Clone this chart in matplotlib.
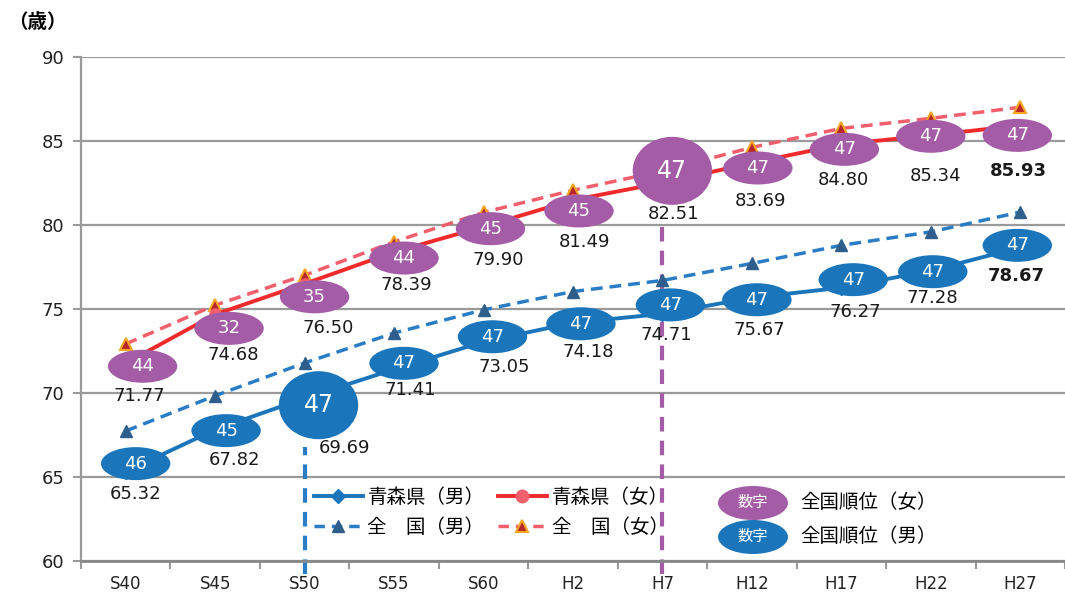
import matplotlib.pyplot as plt
from matplotlib.patches import Ellipse
from matplotlib.lines import Line2D

plt.rcParams['font.family'] = ['DejaVu Sans', 'Noto Sans CJK JP']

# data
years = ['S40', 'S45', 'S50', 'S55', 'S60', 'H2', 'H7', 'H12', 'H17', 'H22', 'H27']
aomori_m = [65.32, 67.82, 69.69, 71.41, 73.05, 74.18, 74.71, 75.67, 76.27, 77.28, 78.67]
aomori_f = [71.77, 74.68, 76.50, 78.39, 79.90, 81.49, 82.51, 83.69, 84.80, 85.34, 85.93]
nation_m = [67.74, 69.84, 71.79, 73.57, 74.95, 76.04, 76.70, 77.71, 78.79, 79.59, 80.77]
nation_f = [72.92, 75.23, 77.01, 79.00, 80.75, 82.07, 83.22, 84.62, 85.75, 86.35, 87.01]
rank_m = [46, 45, 47, 47, 47, 47, 47, 47, 47, 47, 47]
rank_f = [44, 32, 35, 44, 45, 45, 47, 47, 47, 47, 47]

# label / bubble nudges in pixels (dx right, dy down) relative to the point
f_ell = [(17, 3), (14, 14), (10, 13), (10, 6), (7, 2), (6, 11), (10, -12), (6, 5), (3, 5), (0, 1), (-3, 10)]
f_lab = [(14, 33), (18, 41), (24, 44), (12, 33), (15, 33), (12, 42), (11, 31), (9, 38), (2, 36), (5, 41), (-2, 46)]
m_ell = [(10, -8), (11, 1), (14, 7), (10, -6), (9, -5), (8, 1), (8, -9), (5, 2), (12, -8), (2, 1), (-3, -2)]
m_lab = [(10, 22), (19, 30), (40, 50), (16, 21), (21, 25), (15, 29), (4, 21), (7, 32), (14, 24), (2, 27), (-4, 29)]
big_f = 6   # H7
big_m = 2   # S50

BLUE = '#1b75bb'
RED = '#ee2a2a'
PINK = '#f25f6c'
PURPLE = '#a45ca6'
NAVY = '#2e5f8c'
GRID = '#9a9a9a'

W, H = 1065, 596
fig = plt.figure(figsize=(W / 100, H / 100), dpi=100)
ax = fig.add_axes([81 / W, 35 / H, 984 / W, 504 / H])
x = list(range(len(years)))
ax.set_xlim(-0.5, -0.5 + 984 / 90.2)
ax.set_ylim(60, 90)

sx = 90.2
sy = 504 / 30

ax.set_yticks(range(60, 91, 5))
ax.yaxis.grid(True, color=GRID, lw=1.6)
ax.set_axisbelow(True)
ax.tick_params(axis='y', length=6, width=1.5, color=GRID, labelsize=13, pad=6, labelcolor='#222222')
ax.set_xticks(x)
ax.set_xticklabels(years)
ax.set_xticks([i - 0.5 for i in range(len(years) + 1)], minor=True)
ax.tick_params(axis='x', which='major', length=0, labelsize=12, pad=10, labelcolor='#222222')
ax.tick_params(axis='x', which='minor', length=6, width=1.5, color=GRID)
for s in ['top', 'right']:
    ax.spines[s].set_visible(False)
ax.spines['left'].set_color(GRID)
ax.spines['left'].set_linewidth(1.6)
ax.spines['bottom'].set_color('#888888')
ax.spines['bottom'].set_linewidth(2)

# vertical dashed markers
ax.plot([2, 2], [59.25, 66.8], color='#2a7dc4', lw=3, ls=(0, (3.5, 2.2)), clip_on=False, zorder=2)
ax.plot([6, 6], [59.25, 80.2], color=PURPLE, lw=3, ls=(0, (3.5, 2.2)), clip_on=False, zorder=2)

ax.plot(x, nation_m, color='#2a7dc4', lw=2.5, ls=(0, (3.4, 2)), marker='^', ms=9,
        mfc=NAVY, mec=NAVY, zorder=3)
ax.plot(x, nation_f, color=PINK, lw=2.5, ls=(0, (3.4, 2)), marker='^', ms=9,
        mfc='#b8262c', mec='#f5a623', mew=1.5, zorder=3)
ax.plot(x, aomori_m, color=BLUE, lw=2.8, marker='D', ms=7, zorder=3)
ax.plot(x, aomori_f, color=RED, lw=2.8, marker='o', ms=8, mfc=PINK, mec=PINK, zorder=3)


def bubbles(vals, ranks, ell, lab, big, color, last_bold):
    for i, v in enumerate(vals):
        ex, ey = i + ell[i][0] / sx, v - ell[i][1] / sy
        if i == big:
            w, h, fs = 80, 68, 17
        else:
            w, h, fs = 70, 33, 13
        ax.add_patch(Ellipse((ex, ey), w / sx, h / sy, color=color, zorder=4, lw=0))
        ax.text(ex, ey, str(ranks[i]), color='white', fontsize=fs, ha='center',
                va='center', zorder=5)
        lx, ly = i + lab[i][0] / sx, v - lab[i][1] / sy
        bold = last_bold and i == len(vals) - 1
        ax.text(lx, ly, f'{v:.2f}', fontsize=13, ha='center', va='center', color='#1a1a1a',
                fontweight='bold' if bold else 'normal', zorder=5)


bubbles(aomori_f, rank_f, f_ell, f_lab, big_f, PURPLE, True)
bubbles(aomori_m, rank_m, m_ell, m_lab, big_m, BLUE, True)

fig.text(8 / W, 1 - 22 / H, '（歳）', fontsize=14, va='center', ha='left', fontweight='bold')

handles = [
    Line2D([], [], color=BLUE, lw=2.8, marker='D', ms=7),
    Line2D([], [], color='#2a7dc4', lw=2.5, ls=(0, (3, 2)), marker='^', ms=9, mfc=NAVY, mec=NAVY),
    Line2D([], [], color=RED, lw=2.8, marker='o', ms=9, mfc=PINK, mec=PINK),
    Line2D([], [], color=PINK, lw=2.5, ls=(0, (3, 2)), marker='^', ms=9, mfc='#b8262c',
           mec='#f5a623', mew=1.5),
]
labels = ['青森県（男）', '全　国（男）', '青森県（女）', '全　国（女）']
fig.legend(handles, labels, ncol=2, loc='upper left', bbox_to_anchor=(314 / W, 1 - 488 / H),
           frameon=False, fontsize=14, borderpad=0, borderaxespad=0, handlelength=2.5,
           handletextpad=0.25, columnspacing=0.7, labelspacing=0.55)

# rank key
for cy, col, txt in [(503, PURPLE, '全国順位（女）'), (537, BLUE, '全国順位（男）')]:
    fy = 1 - cy / H
    fig.add_artist(Ellipse((753 / W, fy), 70 / W, 34 / H, color=col, lw=0,
                           transform=fig.transFigure))
    fig.text(753 / W, fy, '数字', color='white', fontsize=11, ha='center', va='center')
    fig.text(800 / W, fy, txt, fontsize=14, ha='left', va='center')

fig.savefig('out.png', dpi=100)
